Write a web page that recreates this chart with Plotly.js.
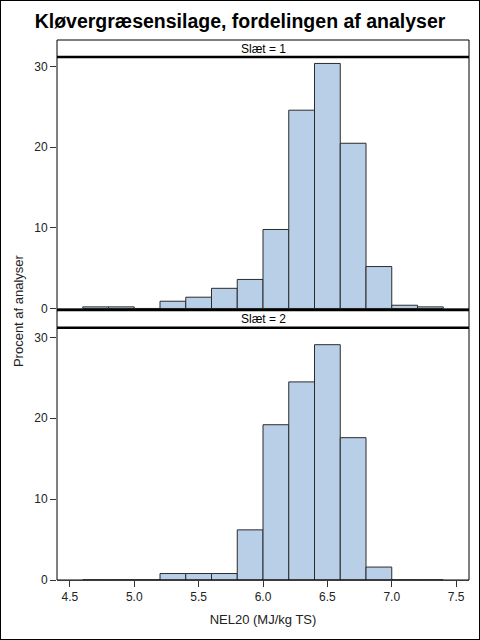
<!DOCTYPE html>
<html>
<head>
<meta charset="utf-8">
<script src="https://cdn.plot.ly/plotly-3.0.1.min.js"></script>
<style>
html,body{margin:0;padding:0;background:#fff;}
#wrap{position:relative;width:480px;height:640px;}
#chart{width:480px;height:640px;}
#border{position:absolute;left:0;top:0;width:478px;height:638px;border:1px solid #000;pointer-events:none;}
</style>
</head>
<body>
<div id="wrap"><div id="chart"></div><div id="border"></div></div>
<script>
var binCenters = [4.7, 4.9, 5.1, 5.3, 5.5, 5.7, 5.9, 6.1, 6.3, 6.5, 6.7, 6.9, 7.1, 7.3];
var slaet1 = [0.2, 0.2, 0, 0.9, 1.4, 2.5, 3.6, 9.8, 24.6, 30.4, 20.5, 5.2, 0.4, 0.2];
var slaet2 = [0, 0, 0, 0.8, 0.8, 0.8, 6.2, 19.2, 24.5, 29.1, 17.6, 1.6, 0, 0];
var panelLabels = ["Slæt = 1", "Slæt = 2"];
var xTicks = [4.5, 5.0, 5.5, 6.0, 6.5, 7.0, 7.5];
var yTicks = [0, 10, 20, 30];
var titleText = "Kløvergræsensilage, fordelingen af analyser";
var xTitle = "NEL20 (MJ/kg TS)";
var yTitle = "Procent af analyser";

var FONT = "Liberation Sans, Arial, sans-serif";
var fill = "#B9CFE7";
var edge = "#2b2b2b";

var barStyle = {color: fill, line: {color: edge, width: 1}};
var traces = [
  {type: "bar", x: binCenters, y: slaet1, width: 0.2, marker: barStyle, xaxis: "x", yaxis: "y2", hoverinfo: "skip"},
  {type: "bar", x: binCenters, y: slaet2, width: 0.2, marker: barStyle, xaxis: "x", yaxis: "y", hoverinfo: "skip"}
];

// layout geometry (paper fractions)
var p2Top = 0.4672, h2Top = 0.5, p1Top = 0.9685;

var yCommon = {
  tickmode: "array", tickvals: yTicks, ticktext: yTicks.map(String),
  ticks: "outside", ticklen: 6, tickcolor: "#333", tickwidth: 1,
  showgrid: false, showline: false,
  zeroline: true, zerolinecolor: "#777", zerolinewidth: 1,
  tickfont: {family: FONT, size: 12, color: "#222"},
  anchor: "x", fixedrange: true
};

var layout = {
  width: 480, height: 640,
  margin: {l: 57, r: 11, t: 40, b: 60},
  paper_bgcolor: "#fff", plot_bgcolor: "#fff",
  showlegend: false,
  bargap: 0,
  font: {family: FONT, color: "#222"},
  title: {text: "<b>" + titleText + "</b>", font: {family: FONT, size: 19.5, color: "#000"},
          x: 0.5, xref: "container", y: 1 - 21/640, yref: "container", yanchor: "middle", xanchor: "center"},
  xaxis: {
    range: [4.4, 7.6], domain: [0, 1],
    tickmode: "array", tickvals: xTicks, ticktext: xTicks.map(function(v){return v.toFixed(1);}),
    ticks: "outside", ticklen: 6, tickcolor: "#333",
    showgrid: false, zeroline: false, showline: false,
    tickfont: {family: FONT, size: 12, color: "#222"},
    anchor: "y", fixedrange: true,
    title: {text: xTitle, font: {family: FONT, size: 13, color: "#222"}, standoff: 11}
  },
  yaxis: Object.assign({}, yCommon, {domain: [0, p2Top], range: [0, 31.2]}),
  yaxis2: Object.assign({}, yCommon, {domain: [h2Top, p1Top], range: [-0.19, 31.2]}),
  shapes: [
    {type: "rect", xref: "paper", yref: "paper", x0: 0, x1: 1, y0: h2Top, y1: p1Top, line: {color: "#000", width: 1}},
    {type: "rect", xref: "paper", yref: "paper", x0: 0, x1: 1, y0: 0, y1: p2Top, line: {color: "#000", width: 1}},
    {type: "rect", xref: "paper", yref: "paper", x0: 0, x1: 1, y0: p1Top, y1: 1, line: {color: "#000", width: 1}, fillcolor: "#fff"},
    {type: "line", xref: "paper", yref: "paper", x0: 0, x1: 1, y0: p1Top, y1: p1Top, line: {color: "#000", width: 2.5}},
    {type: "rect", xref: "paper", yref: "paper", x0: 0, x1: 1, y0: p2Top, y1: h2Top, line: {color: "#000", width: 1}, fillcolor: "#fff"},
    {type: "line", xref: "paper", yref: "paper", x0: 0, x1: 1, y0: p2Top, y1: p2Top, line: {color: "#000", width: 2.5}},
    {type: "line", xref: "paper", yref: "paper", x0: 0, x1: 1, y0: h2Top, y1: h2Top, line: {color: "#000", width: 2.5}}
  ],
  annotations: [
    {text: panelLabels[0], xref: "paper", yref: "paper", x: 0.5, y: (p1Top + 1)/2, showarrow: false,
     xanchor: "center", yanchor: "middle", font: {family: FONT, size: 12, color: "#000"}},
    {text: panelLabels[1], xref: "paper", yref: "paper", x: 0.5, y: (p2Top + h2Top)/2, showarrow: false,
     xanchor: "center", yanchor: "middle", font: {family: FONT, size: 12, color: "#000"}},
    {text: yTitle, xref: "paper", yref: "paper", x: -39/412, y: 0.498, textangle: -90, showarrow: false,
     xanchor: "center", yanchor: "middle", font: {family: FONT, size: 13, color: "#222"}}
  ]
};

Plotly.newPlot("chart", traces, layout, {displayModeBar: false, staticPlot: true});
</script>
</body>
</html>
